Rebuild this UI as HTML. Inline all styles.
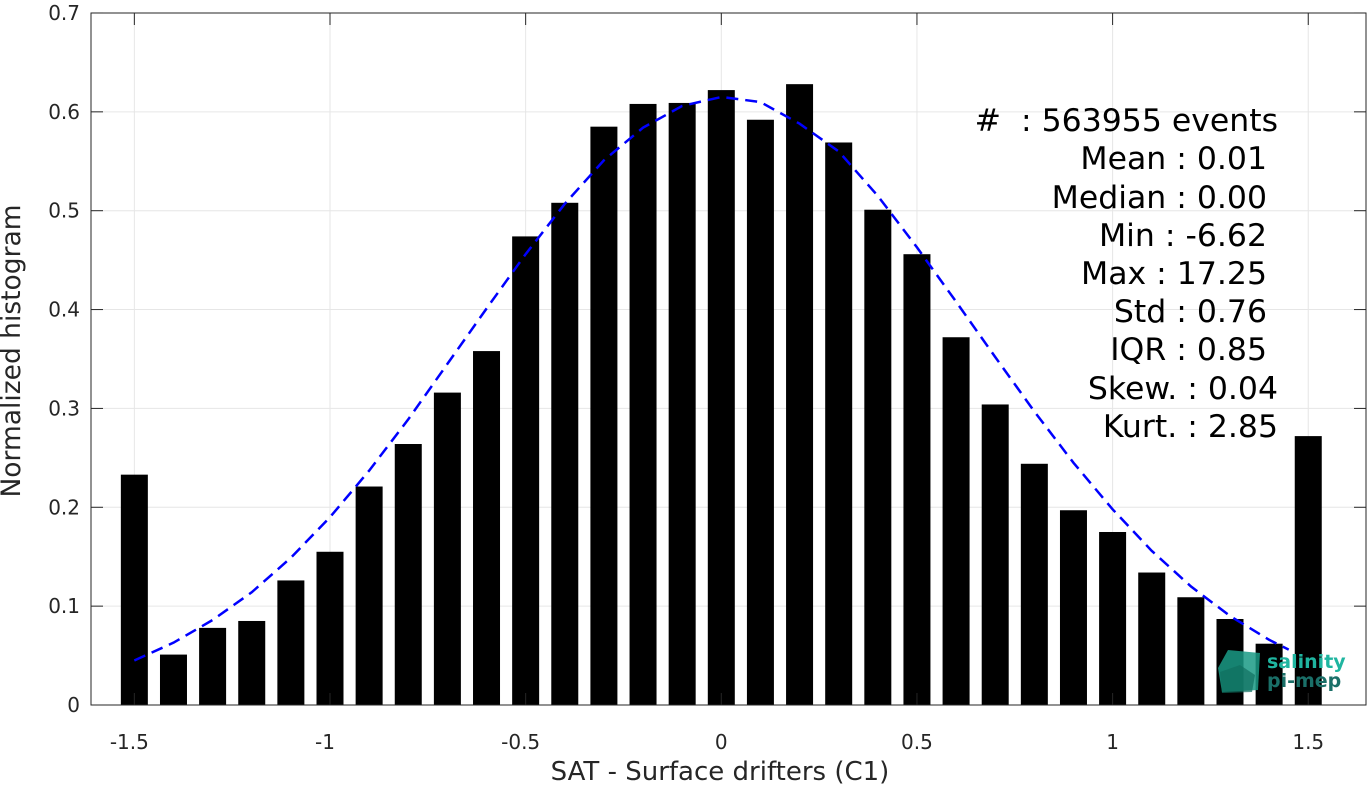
<!DOCTYPE html>
<html><head><meta charset="utf-8"><style>
html,body{margin:0;padding:0;background:#fff;}
svg{display:block;font-family:"DejaVu Sans","Liberation Sans",sans-serif;}
</style></head><body>
<svg id="chart" width="1367" height="785" viewBox="0 0 1367 785" xmlns="http://www.w3.org/2000/svg">
<g id="grid"></g>
<g id="bars"></g>
<path id="fit" fill="none" stroke="#0000ff" stroke-width="2.5" stroke-dasharray="12,7"/>
<rect x="91" y="13" width="1275" height="692" fill="none" stroke="#262626" stroke-width="1"/>
<g id="ticks"></g>
<text x="720" y="780" font-size="26" text-anchor="middle" fill="#262626">SAT - Surface drifters (C1)</text>
<text transform="translate(20,351) rotate(-90)" font-size="26.5" text-anchor="middle" fill="#262626">Normalized histogram</text>
<g font-size="31.5" fill="#000" text-anchor="end">
<text x="1278" y="131" xml:space="preserve">#  : 563955 events</text>
<text x="1267" y="169">Mean : 0.01</text>
<text x="1267" y="208">Median : 0.00</text>
<text x="1267" y="246">Min : -6.62</text>
<text x="1267" y="284">Max : 17.25</text>
<text x="1267" y="322">Std : 0.76</text>
<text x="1267" y="360">IQR : 0.85</text>
<text x="1278" y="399">Skew. : 0.04</text>
<text x="1278" y="437">Kurt. : 2.85</text>
</g>
<g>
<polygon points="1228,650 1260,653 1258,690 1222,692 1218,668" fill="#1a9a85" opacity="0.85"/>
<polygon points="1220,672 1240,665 1255,675 1252,692 1222,693" fill="#0f6f60" opacity="0.7"/>
<text x="1267" y="668" font-size="19" font-weight="bold" fill="#1fb5a0">salinity</text>
<text x="1267" y="687" font-size="19" font-weight="bold" fill="#1a6f68">pi-mep</text>
</g>
</svg>
<script>
const binCenters=[-1.5,-1.4,-1.3,-1.2,-1.1,-1.0,-0.9,-0.8,-0.7,-0.6,-0.5,-0.4,-0.3,-0.2,-0.1,0,0.1,0.2,0.3,0.4,0.5,0.6,0.7,0.8,0.9,1.0,1.1,1.2,1.3,1.4,1.5];
const binValues=[0.233,0.051,0.078,0.085,0.126,0.155,0.221,0.264,0.316,0.358,0.474,0.508,0.585,0.608,0.609,0.622,0.592,0.628,0.569,0.501,0.456,0.372,0.304,0.244,0.197,0.175,0.134,0.109,0.087,0.062,0.272];
const fitX=[-1.5,-1.4,-1.3,-1.2,-1.1,-1.0,-0.9,-0.8,-0.7,-0.6,-0.5,-0.4,-0.3,-0.2,-0.1,0,0.1,0.2,0.3,0.4,0.5,0.6,0.7,0.8,0.9,1.0,1.1,1.2,1.3,1.4,1.45];
const fitY=[0.045,0.063,0.086,0.114,0.149,0.190,0.237,0.289,0.345,0.401,0.456,0.507,0.551,0.584,0.606,0.615,0.610,0.588,0.560,0.515,0.463,0.408,0.352,0.297,0.245,0.198,0.156,0.120,0.090,0.066,0.056];
const xTicks=[-1.5,-1,-0.5,0,0.5,1,1.5];
const xTickLabels=["-1.5","-1","-0.5","0","0.5","1","1.5"];
const yTicks=[0,0.1,0.2,0.3,0.4,0.5,0.6,0.7];
const yTickLabels=["0","0.1","0.2","0.3","0.4","0.5","0.6","0.7"];
const NS="http://www.w3.org/2000/svg";
const X=v=>721.3+v*391.3, Y=v=>705-v*988.6;
function mk(t,a,p){const e=document.createElementNS(NS,t);for(const k in a)e.setAttribute(k,a[k]);p.appendChild(e);return e;}
const grid=document.getElementById('grid'),ticks=document.getElementById('ticks'),bars=document.getElementById('bars');
xTicks.forEach((v,i)=>{
 const g=mk('line',{x1:X(v),x2:X(v),y1:13,y2:705,stroke:'#e6e6e6'},grid);
 
 
 mk('line',{x1:X(v),x2:X(v),y1:705,y2:693,stroke:'#262626'},ticks);
 mk('line',{x1:X(v),x2:X(v),y1:13,y2:25,stroke:'#262626'},ticks);
 const t=mk('text',{x:X(v)-(xTickLabels[i][0]==='-'?5:0),y:749,'font-size':20,'text-anchor':'middle',fill:'#262626'},ticks);
 t.textContent=xTickLabels[i];
 
 
});
yTicks.forEach((v,i)=>{
 const g=mk('line',{x1:91,x2:1366,y1:Y(v),y2:Y(v),stroke:'#e6e6e6'},grid);
 
 
 mk('line',{x1:91,x2:103,y1:Y(v),y2:Y(v),stroke:'#262626'},ticks);
 mk('line',{x1:1354,x2:1366,y1:Y(v),y2:Y(v),stroke:'#262626'},ticks);
 const t=mk('text',{x:80,y:Y(v)+7,'font-size':20,'text-anchor':'end',fill:'#262626'},ticks);
 t.textContent=yTickLabels[i];
 
 
});
binCenters.forEach((c,i)=>{
 const r=mk('rect',{x:X(c)-13.5,y:Y(binValues[i]),width:27,height:Y(0)-Y(binValues[i]),fill:'#000'},bars);
 
 
});
document.getElementById('fit').setAttribute('d',fitX.map((x,i)=>(i?'L':'M')+X(x).toFixed(1)+','+Y(fitY[i]).toFixed(1)).join(' '));
</script>
</body></html>
